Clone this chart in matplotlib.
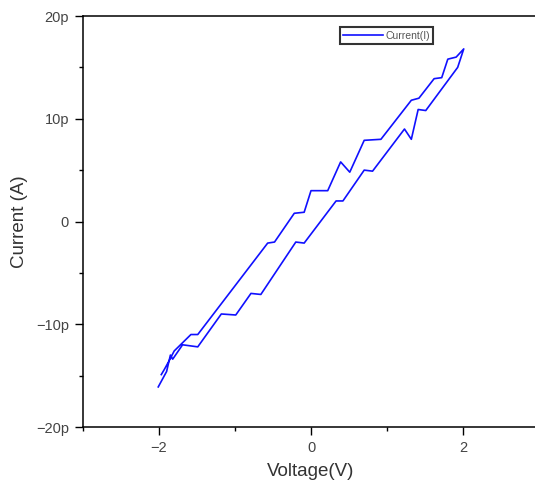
import matplotlib
matplotlib.use("Agg")
import matplotlib.pyplot as plt
from matplotlib.ticker import MultipleLocator, FuncFormatter

plt.rcParams["font.family"] = ["Liberation Sans", "DejaVu Sans"]

# I-V sweep, current in pA
v_up = [-1.97, -1.93, -1.87, -1.80, -1.58, -1.49, -0.57, -0.48, -0.22, -0.09,
        0.0, 0.22, 0.39, 0.51, 0.70, 0.92, 1.32, 1.42, 1.62, 1.72, 1.80, 1.91, 2.01]
i_up = [-14.9, -14.4, -13.6, -12.6, -11.0, -11.0, -2.1, -2.0, 0.8, 0.9,
        3.0, 3.0, 5.8, 4.8, 7.9, 8.0, 11.8, 12.0, 13.9, 14.0, 15.8, 16.0, 16.8]
v_down = [2.01, 1.93, 1.51, 1.41, 1.32, 1.23, 0.81, 0.70, 0.42, 0.33,
          -0.09, -0.20, -0.66, -0.79, -0.99, -1.18, -1.49, -1.69, -1.82, -1.85,
          -1.90, -2.01]
i_down = [16.8, 15.0, 10.8, 10.9, 8.0, 9.0, 4.9, 5.0, 2.0, 2.0,
          -2.1, -2.0, -7.1, -7.0, -9.1, -9.0, -12.2, -12.0, -13.4, -13.0,
          -14.6, -16.1]

volts = v_up + v_down
current = i_up + i_down


def pico(y, pos):
    if abs(y) < 1e-9:
        return "0"
    return f"{y:.0f}p".replace("-", "\u2212")


fig = plt.figure(figsize=(5.35, 4.9), dpi=100)
ax = fig.add_axes([83 / 535, 63 / 490, 456 / 535, 411 / 490])
ax.plot(volts, current, color="#1010ff", lw=1.2, label="Current(I)")

ax.set_xlim(-3, 3)
ax.set_ylim(-20, 20)
ax.xaxis.set_major_locator(MultipleLocator(2))
ax.xaxis.set_minor_locator(MultipleLocator(1))
ax.yaxis.set_major_locator(MultipleLocator(10))
ax.yaxis.set_minor_locator(MultipleLocator(5))
ax.yaxis.set_major_formatter(FuncFormatter(pico))
ax.xaxis.set_major_formatter(FuncFormatter(lambda x, p: f"{x:.0f}".replace("-", "\u2212")))
ax.tick_params(which="major", direction="out", length=6, width=1, labelsize=10.5,
               labelcolor="#444444", top=False, right=False, pad=4)
ax.tick_params(which="minor", direction="out", length=3, width=1, top=False, right=False)
for s in ax.spines.values():
    s.set_linewidth(1.1)

ax.set_xlabel("Voltage(V)", fontsize=13.5, color="#333333", labelpad=6)
ax.set_ylabel("Current (A)", fontsize=13.5, color="#333333", labelpad=6)

leg = ax.legend(loc="upper left", bbox_to_anchor=(0.563, 0.973), fontsize=7.5,
                frameon=True, fancybox=False, handlelength=3.8, handletextpad=0.2,
                borderpad=0.35, borderaxespad=0)
leg.get_frame().set_edgecolor("black")
leg.get_frame().set_linewidth(1.5)
for t in leg.get_texts():
    t.set_color("#555555")

fig.savefig("out.png", dpi=100)
